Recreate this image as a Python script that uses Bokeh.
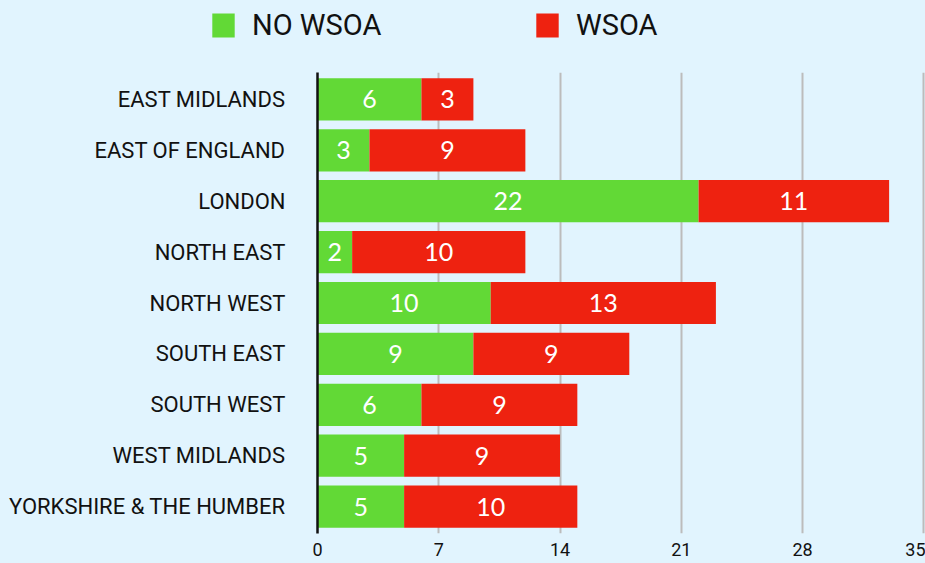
from bokeh.plotting import figure
from bokeh.layouts import column
from bokeh.models import ColumnDataSource, FactorRange, Range1d, Legend, LegendItem, FixedTicker
from bokeh.core.properties import value
from bokeh.embed import file_html
from bokeh.resources import INLINE

regions = ["EAST MIDLANDS", "EAST OF ENGLAND", "LONDON", "NORTH EAST", "NORTH WEST",
           "SOUTH EAST", "SOUTH WEST", "WEST MIDLANDS", "YORKSHIRE & THE HUMBER"]
no_wsoa = [6, 3, 22, 2, 10, 9, 6, 5, 5]
wsoa = [3, 9, 11, 10, 13, 9, 9, 9, 10]
x_ticks = [0, 7, 14, 21, 28, 35]
series_names = ["NO WSOA", "WSOA"]

GREEN = "#62d936"
RED = "#ee2210"
BG = "#e1f4fe"
INK = "#111111"

totals = [a + b for a, b in zip(no_wsoa, wsoa)]
src = ColumnDataSource(dict(
    region=regions,
    no_start=[0] * len(regions),
    no_end=no_wsoa,
    w_start=no_wsoa,
    w_end=totals,
    no_mid=[a / 2 for a in no_wsoa],
    w_mid=[a + b / 2 for a, b in zip(no_wsoa, wsoa)],
    no_lbl=[str(v) for v in no_wsoa],
    w_lbl=[str(v) for v in wsoa],
))

# ---- legend strip ----
lg = figure(width=925, height=72, output_backend="svg", toolbar_location=None,
            x_axis_type=None, y_axis_type=None,
            x_range=Range1d(0, 1), y_range=Range1d(0, 1),
            min_border_left=0, min_border_right=0, min_border_top=0, min_border_bottom=0)
lg.background_fill_color = BG
lg.border_fill_color = BG
lg.outline_line_color = None
lg.grid.visible = False
# legend-only renderers, placed outside the visible range
d1 = lg.hbar(y=[-5], left=[0], right=[1], height=1, fill_color=GREEN, line_color=None)
d2 = lg.hbar(y=[-5], left=[0], right=[1], height=1, fill_color=RED, line_color=None)
legend = Legend(items=[LegendItem(label=series_names[0], renderers=[d1]),
                       LegendItem(label=series_names[1], renderers=[d2])],
                orientation="horizontal", location=(209, 30),
                glyph_width=28, glyph_height=30, label_standoff=15,
                label_width=281, spacing=0, padding=0, margin=0,
                label_text_font="Roboto", label_text_font_size="29px",
                label_text_color=INK, label_height=30,
                border_line_color=None, background_fill_alpha=0)
lg.add_layout(legend, "center")

# ---- main chart ----
p = figure(width=925, height=491, output_backend="svg", toolbar_location=None,
           y_range=FactorRange(factors=list(reversed(regions)), range_padding=0.0067),
           x_range=Range1d(0, 35.1),
           min_border_left=317, min_border_right=0, min_border_top=0, min_border_bottom=30)
p.background_fill_color = BG
p.border_fill_color = BG
p.outline_line_color = None

r1 = p.hbar(y="region", left="no_start", right="no_end", height=0.83, source=src,
            fill_color=GREEN, line_color=None)
r2 = p.hbar(y="region", left="w_start", right="w_end", height=0.83, source=src,
            fill_color=RED, line_color=None)

p.text(x="no_mid", y="region", text="no_lbl", source=src, text_color="white",
       text_align="center", text_baseline="middle", text_font=value("Lato"),
       text_font_size="25px")
p.text(x="w_mid", y="region", text="w_lbl", source=src, text_color="white",
       text_align="center", text_baseline="middle", text_font=value("Lato"),
       text_font_size="25px")

p.ygrid.grid_line_color = None
p.xgrid.ticker = FixedTicker(ticks=x_ticks)
p.xgrid.grid_line_color = "#bcbcbc"
p.xgrid.grid_line_width = 2

p.xaxis.ticker = FixedTicker(ticks=x_ticks)
p.xaxis.axis_line_color = None
p.xaxis.major_tick_line_color = None
p.xaxis.minor_tick_line_color = None
p.xaxis.major_tick_out = 0
p.xaxis.major_label_standoff = 9
p.xaxis.major_label_text_font = "Roboto"
p.xaxis.major_label_text_font_size = "18px"
p.xaxis.major_label_text_color = INK

p.yaxis.axis_line_color = INK
p.yaxis.axis_line_width = 2.5
p.yaxis.major_tick_line_color = None
p.yaxis.minor_tick_line_color = None
p.yaxis.major_tick_out = 0
p.yaxis.major_label_standoff = 32
p.yaxis.major_label_text_font = "Roboto"
p.yaxis.major_label_text_font_size = "22px"
p.yaxis.major_label_text_color = INK

page = column(column(lg, spacing=0), p, spacing=0,
              styles={"background-color": BG})
open("out.html", "w").write(file_html(page, INLINE))
